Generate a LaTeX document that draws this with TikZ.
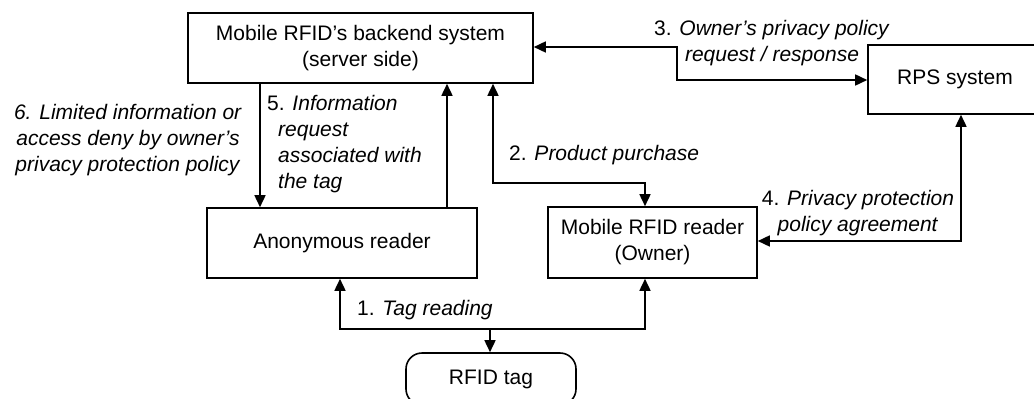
\documentclass[tikz,border=0pt]{standalone}
\usepackage{fontspec}
\setmainfont{Liberation Sans}
\usetikzlibrary{arrows.meta}
\begin{document}
\begin{tikzpicture}[x=1pt,y=-1pt,
  every node/.style={font=\fontsize{21}{26}\selectfont, inner sep=0pt},
  box/.style={draw, line width=1.6pt, minimum width=#1, align=center},
  conn/.style={line width=1.6pt},
  tip/.style={-{Triangle[length=12pt,width=11pt]}},
  tips/.style={{Triangle[length=12pt,width=11pt]}-{Triangle[length=12pt,width=11pt]}},
  lbl/.style={align=center}
]
\useasboundingbox (0,0) rectangle (1034,399);
% boxes
\node[box=345pt, minimum height=70pt] (backend) at (360.5,48) {Mobile RFID’s backend system\\(server side)};
\node[box=174pt, minimum height=69pt] (rps) at (955,79.5) {RPS system};
\node[box=270pt, minimum height=70pt] (anon) at (342,243) {Anonymous reader};
\node[box=209pt, minimum height=71pt] (mobile) at (652.5,242.5) {Mobile RFID reader\\(Owner)};
\node[box=170pt, minimum height=52pt, rounded corners=16pt] (tag) at (491,379) {RFID tag};
% helper coordinates
\coordinate (x6) at (260,0);
\coordinate (x5) at (447,0);
\coordinate (c2a) at (493,183);
\coordinate (c2b) at (645,183);
\coordinate (c3a) at (677,47);
\coordinate (c3b) at (677,80);
\coordinate (c4) at (961,241);
\coordinate (c1a) at (340,329);
\coordinate (c1b) at (645,329);
\coordinate (c1t) at (490,329);
% connectors
\draw[conn,tip] (backend.south -| x6) -- (anon.north -| x6);
\draw[conn,tip] (anon.north -| x5) -- (backend.south -| x5);
\draw[conn,tips] (backend.south -| c2a) -- (c2a) -- (c2b) -- (mobile.north -| c2b);
\draw[conn,tips] (backend.east |- c3a) -- (c3a) -- (c3b) -- (rps.west |- c3b);
\draw[conn,tips] (rps.south -| c4) -- (c4) -- (mobile.east |- c4);
\draw[conn,tips] (anon.south -| c1a) -- (c1a) -- (c1b) -- (mobile.south -| c1b);
\draw[conn,tip] (c1t) -- (tag.north -| c1t);
% labels
\node[lbl] (l3) at (772,43) {3. \textit{Owner’s privacy policy}\\\textit{request / response}};
\node[anchor=west] (l2) at (509,155) {2. \textit{Product purchase}};
\node[lbl] (l4) at (858,213) {4. \textit{Privacy protection}\\\textit{policy agreement}};
\node[lbl] (l6) at (128,140) {\textit{6. Limited information or}\\\textit{access deny by owner’s}\\\textit{privacy protection policy}};
\node[anchor=west, align=left] (l5) at (267,144) {5. \textit{Information}\\\hspace*{11pt}\textit{request}\\\hspace*{11pt}\textit{associated with}\\\hspace*{11pt}\textit{the tag}};
\node[anchor=west] (l1) at (357,310) {1. \textit{Tag reading}};
\end{tikzpicture}
\end{document}
